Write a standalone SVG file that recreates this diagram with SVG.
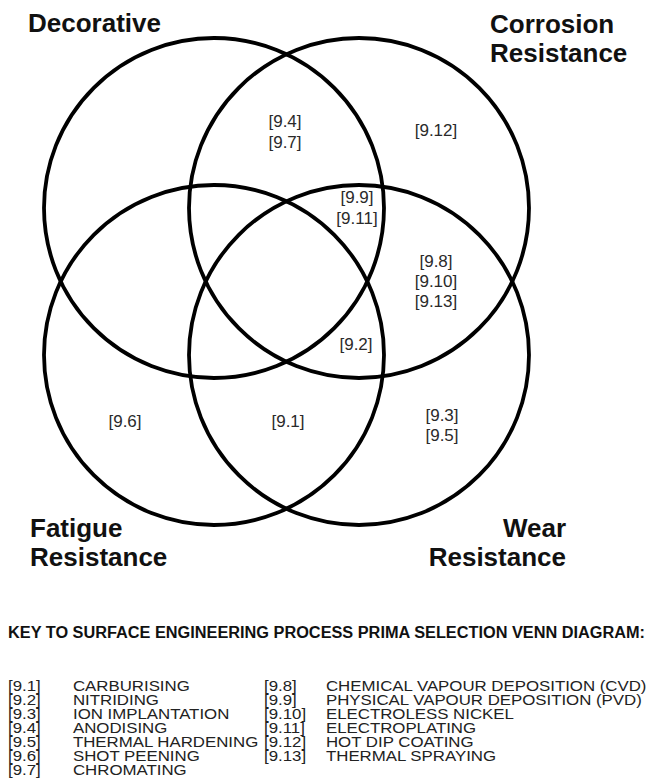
<svg xmlns="http://www.w3.org/2000/svg" width="651" height="778" viewBox="0 0 651 778">
  <style>
    .set { fill: none; stroke: #000; stroke-width: 3.8; }
    .title { font-family: "Liberation Sans", Arial, sans-serif; font-weight: bold; font-size: 26px; fill: #111; }
    .code { font-family: "Liberation Sans", Arial, sans-serif; font-size: 17px; fill: #2a2a2a; text-anchor: middle; }
    .keyhead { font-family: "Liberation Sans", Arial, sans-serif; font-weight: bold; font-size: 16px; fill: #111; }
    .key { font-family: "Liberation Sans", Arial, sans-serif; font-size: 13.8px; fill: #222; }
  </style>
  <rect width="651" height="778" fill="#fff"/>

  <!-- Four overlapping property sets -->
  <g id="decorative">
    <circle class="set" cx="214" cy="208" r="170"/>
    <text class="title" x="28" y="32">Decorative</text>
  </g>
  <g id="corrosion-resistance">
    <circle class="set" cx="359" cy="208" r="170"/>
    <text class="title" x="490" y="33">Corrosion</text>
    <text class="title" x="490" y="62">Resistance</text>
  </g>
  <g id="fatigue-resistance">
    <circle class="set" cx="214" cy="355" r="170"/>
    <text class="title" x="30" y="537">Fatigue</text>
    <text class="title" x="30" y="566">Resistance</text>
  </g>
  <g id="wear-resistance">
    <circle class="set" cx="359" cy="355" r="170"/>
    <text class="title" x="566" y="537" text-anchor="end">Wear</text>
    <text class="title" x="566" y="566" text-anchor="end">Resistance</text>
  </g>

  <!-- Process codes placed in their regions -->
  <g id="regions">
    <text class="code" x="285" y="127">[9.4]</text>
    <text class="code" x="285" y="148">[9.7]</text>
    <text class="code" x="436" y="136">[9.12]</text>
    <text class="code" x="357" y="203">[9.9]</text>
    <text class="code" x="357" y="224">[9.11]</text>
    <text class="code" x="436" y="267">[9.8]</text>
    <text class="code" x="436" y="287">[9.10]</text>
    <text class="code" x="436" y="307">[9.13]</text>
    <text class="code" x="356" y="350">[9.2]</text>
    <text class="code" x="125" y="427">[9.6]</text>
    <text class="code" x="288" y="427">[9.1]</text>
    <text class="code" x="442" y="421">[9.3]</text>
    <text class="code" x="442" y="441">[9.5]</text>
  </g>

  <!-- Key: codes and process names, drawn slightly widened -->
  <g id="key">
    <text class="keyhead" x="8" y="638" textLength="637" lengthAdjust="spacingAndGlyphs">KEY TO SURFACE ENGINEERING PROCESS PRIMA SELECTION VENN DIAGRAM:</text>
    <g class="key" transform="scale(1.22 1)">
      <text x="6.6" y="691">[9.1]</text><text x="59.8" y="691">CARBURISING</text>
      <text x="6.6" y="705">[9.2]</text><text x="59.8" y="705">NITRIDING</text>
      <text x="6.6" y="719">[9.3]</text><text x="59.8" y="719">ION IMPLANTATION</text>
      <text x="6.6" y="733">[9.4]</text><text x="59.8" y="733">ANODISING</text>
      <text x="6.6" y="747">[9.5]</text><text x="59.8" y="747">THERMAL HARDENING</text>
      <text x="6.6" y="761">[9.6]</text><text x="59.8" y="761">SHOT PEENING</text>
      <text x="6.6" y="775">[9.7]</text><text x="59.8" y="775">CHROMATING</text>
      <text x="216.4" y="691">[9.8]</text><text x="267.2" y="691">CHEMICAL VAPOUR DEPOSITION (CVD)</text>
      <text x="216.4" y="705">[9.9]</text><text x="267.2" y="705">PHYSICAL VAPOUR DEPOSITION (PVD)</text>
      <text x="216.4" y="719">[9.10]</text><text x="267.2" y="719">ELECTROLESS NICKEL</text>
      <text x="216.4" y="733">[9.11]</text><text x="267.2" y="733">ELECTROPLATING</text>
      <text x="216.4" y="747">[9.12]</text><text x="267.2" y="747">HOT DIP COATING</text>
      <text x="216.4" y="761">[9.13]</text><text x="267.2" y="761">THERMAL SPRAYING</text>
    </g>
  </g>
</svg>
